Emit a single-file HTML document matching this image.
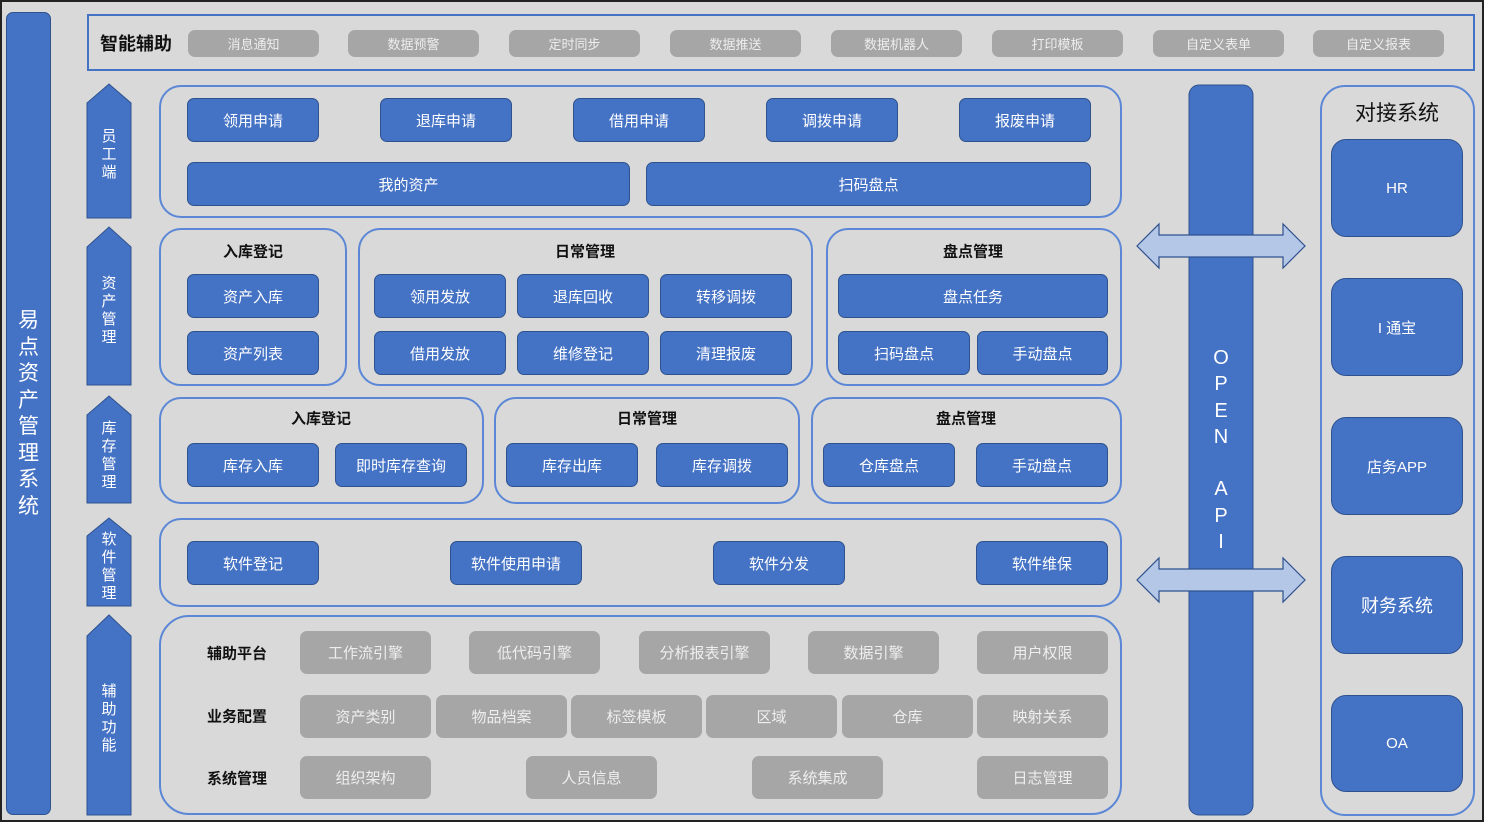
<!DOCTYPE html>
<html><head><meta charset="utf-8"><style>
*{margin:0;padding:0;box-sizing:border-box}
body{width:1488px;height:825px;background:#fff;position:relative;overflow:hidden;font-family:"Liberation Sans","Noto Sans CJK SC",sans-serif}
.a{position:absolute}
#frame{left:0;top:0;width:1484px;height:822px;background:#d9d9d9;border:2px solid #222}
.b{position:absolute;background:#4472c4;border:1px solid #2f528f;border-radius:7px;color:#fff;font-size:15px;display:flex;align-items:center;justify-content:center}
.g{position:absolute;background:#a6a6a6;border-radius:7px;color:#eee;font-size:15px;display:flex;align-items:center;justify-content:center}
.box{position:absolute;border:2px solid #5b87d6;border-radius:22px}
.t{position:absolute;font-weight:bold;font-size:15px;color:#111;transform:translate(-50%,-50%);white-space:nowrap}
.v{position:absolute;color:#fff;font-size:15px;line-height:18px;text-align:center;width:44px}
</style></head><body>
<div id="frame" class="a"></div>
<div class="a" style="left:6px;top:12px;width:45px;height:803px;background:#4472c4;border:1px solid #2f528f;border-radius:7px"></div>
<div class="v" style="left:6px;top:308px;font-size:21px;line-height:26.5px;width:45px">易<br>点<br>资<br>产<br>管<br>理<br>系<br>统</div>

<div class="a" style="left:87px;top:14px;width:1388px;height:57px;border:2px solid #4472c4"></div>
<div class="t" style="left:136px;top:43px;font-size:18px">智能辅助</div>
<div class="g" style="left:188px;top:30px;width:131px;height:27px;font-size:13px">消息通知</div>
<div class="g" style="left:348px;top:30px;width:131px;height:27px;font-size:13px">数据预警</div>
<div class="g" style="left:509px;top:30px;width:131px;height:27px;font-size:13px">定时同步</div>
<div class="g" style="left:670px;top:30px;width:131px;height:27px;font-size:13px">数据推送</div>
<div class="g" style="left:831px;top:30px;width:131px;height:27px;font-size:13px">数据机器人</div>
<div class="g" style="left:992px;top:30px;width:131px;height:27px;font-size:13px">打印模板</div>
<div class="g" style="left:1153px;top:30px;width:131px;height:27px;font-size:13px">自定义表单</div>
<div class="g" style="left:1313px;top:30px;width:131px;height:27px;font-size:13px">自定义报表</div>

<svg class="a" style="left:0;top:0" width="1488" height="825">
<g fill="#4472c4" stroke="#2f528f" stroke-width="1">
<polygon points="87,103 109,84 131,103 131,218 87,218"/>
<polygon points="87,247 109,227 131,247 131,385 87,385"/>
<polygon points="87,415 109,396 131,415 131,503 87,503"/>
<polygon points="87,536 109,518 131,536 131,606 87,606"/>
<polygon points="87,636 109,615 131,636 131,815 87,815"/>
</g>
<rect x="1189" y="85" width="64" height="730" rx="10" fill="#4472c4" stroke="#2f528f"/>
<g fill="#b4c7e7" stroke="#2f528f" stroke-width="1.2">
<polygon points="1137,246 1159,224 1159,235 1283,235 1283,224 1305,246 1283,268 1283,257 1159,257 1159,268"/>
<polygon points="1137,580 1159,558 1159,569 1283,569 1283,558 1305,580 1283,602 1283,591 1159,591 1159,602"/>
</g>
</svg>
<div class="v" style="left:87px;top:128px">员<br>工<br>端</div>
<div class="v" style="left:87px;top:275px">资<br>产<br>管<br>理</div>
<div class="v" style="left:87px;top:420px">库<br>存<br>管<br>理</div>
<div class="v" style="left:87px;top:531px">软<br>件<br>管<br>理</div>
<div class="v" style="left:87px;top:683px">辅<br>助<br>功<br>能</div>
<div class="v" style="left:1199px;top:345px;font-size:20px;line-height:26.3px;width:44px">O<br>P<br>E<br>N<br><br>A<br>P<br>I</div>

<div class="box" style="left:159px;top:85px;width:963px;height:133px"></div>
<div class="b" style="left:187px;top:98px;width:132px;height:44px">领用申请</div>
<div class="b" style="left:380px;top:98px;width:132px;height:44px">退库申请</div>
<div class="b" style="left:573px;top:98px;width:132px;height:44px">借用申请</div>
<div class="b" style="left:766px;top:98px;width:132px;height:44px">调拨申请</div>
<div class="b" style="left:959px;top:98px;width:132px;height:44px">报废申请</div>
<div class="b" style="left:187px;top:162px;width:443px;height:44px">我的资产</div>
<div class="b" style="left:646px;top:162px;width:445px;height:44px">扫码盘点</div>

<div class="box" style="left:159px;top:228px;width:188px;height:158px"></div>
<div class="box" style="left:358px;top:228px;width:455px;height:158px"></div>
<div class="box" style="left:826px;top:228px;width:296px;height:158px"></div>
<div class="t" style="left:253px;top:251px">入库登记</div>
<div class="t" style="left:585px;top:251px">日常管理</div>
<div class="t" style="left:973px;top:251px">盘点管理</div>
<div class="b" style="left:187px;top:274px;width:132px;height:44px">资产入库</div>
<div class="b" style="left:187px;top:331px;width:132px;height:44px">资产列表</div>
<div class="b" style="left:374px;top:274px;width:132px;height:44px">领用发放</div>
<div class="b" style="left:517px;top:274px;width:132px;height:44px">退库回收</div>
<div class="b" style="left:660px;top:274px;width:132px;height:44px">转移调拨</div>
<div class="b" style="left:374px;top:331px;width:132px;height:44px">借用发放</div>
<div class="b" style="left:517px;top:331px;width:132px;height:44px">维修登记</div>
<div class="b" style="left:660px;top:331px;width:132px;height:44px">清理报废</div>
<div class="b" style="left:838px;top:274px;width:270px;height:44px">盘点任务</div>
<div class="b" style="left:838px;top:331px;width:132px;height:44px">扫码盘点</div>
<div class="b" style="left:977px;top:331px;width:131px;height:44px">手动盘点</div>

<div class="box" style="left:159px;top:397px;width:325px;height:107px"></div>
<div class="box" style="left:494px;top:397px;width:306px;height:107px"></div>
<div class="box" style="left:811px;top:397px;width:311px;height:107px"></div>
<div class="t" style="left:321px;top:418px">入库登记</div>
<div class="t" style="left:647px;top:418px">日常管理</div>
<div class="t" style="left:966px;top:418px">盘点管理</div>
<div class="b" style="left:187px;top:443px;width:132px;height:44px">库存入库</div>
<div class="b" style="left:335px;top:443px;width:132px;height:44px">即时库存查询</div>
<div class="b" style="left:506px;top:443px;width:132px;height:44px">库存出库</div>
<div class="b" style="left:656px;top:443px;width:132px;height:44px">库存调拨</div>
<div class="b" style="left:823px;top:443px;width:132px;height:44px">仓库盘点</div>
<div class="b" style="left:976px;top:443px;width:132px;height:44px">手动盘点</div>

<div class="box" style="left:159px;top:518px;width:963px;height:89px"></div>
<div class="b" style="left:187px;top:541px;width:132px;height:44px">软件登记</div>
<div class="b" style="left:450px;top:541px;width:132px;height:44px">软件使用申请</div>
<div class="b" style="left:713px;top:541px;width:132px;height:44px">软件分发</div>
<div class="b" style="left:976px;top:541px;width:132px;height:44px">软件维保</div>

<div class="box" style="left:159px;top:615px;width:963px;height:200px;border-radius:30px"></div>
<div class="t" style="left:237px;top:653px">辅助平台</div>
<div class="t" style="left:237px;top:716px">业务配置</div>
<div class="t" style="left:237px;top:778px">系统管理</div>
<div class="g" style="left:300px;top:631px;width:131px;height:43px">工作流引擎</div>
<div class="g" style="left:469px;top:631px;width:131px;height:43px">低代码引擎</div>
<div class="g" style="left:639px;top:631px;width:131px;height:43px">分析报表引擎</div>
<div class="g" style="left:808px;top:631px;width:131px;height:43px">数据引擎</div>
<div class="g" style="left:977px;top:631px;width:131px;height:43px">用户权限</div>
<div class="g" style="left:300px;top:695px;width:131px;height:43px">资产类别</div>
<div class="g" style="left:436px;top:695px;width:131px;height:43px">物品档案</div>
<div class="g" style="left:571px;top:695px;width:131px;height:43px">标签模板</div>
<div class="g" style="left:706px;top:695px;width:131px;height:43px">区域</div>
<div class="g" style="left:842px;top:695px;width:131px;height:43px">仓库</div>
<div class="g" style="left:977px;top:695px;width:131px;height:43px">映射关系</div>
<div class="g" style="left:300px;top:756px;width:131px;height:43px">组织架构</div>
<div class="g" style="left:526px;top:756px;width:131px;height:43px">人员信息</div>
<div class="g" style="left:752px;top:756px;width:131px;height:43px">系统集成</div>
<div class="g" style="left:977px;top:756px;width:131px;height:43px">日志管理</div>

<div class="box" style="left:1320px;top:85px;width:155px;height:731px;border-radius:25px"></div>
<div class="t" style="left:1397px;top:112px;font-size:21px;font-weight:normal">对接系统</div>
<div class="b" style="left:1331px;top:139px;width:132px;height:98px;border-radius:15px">HR</div>
<div class="b" style="left:1331px;top:278px;width:132px;height:98px;border-radius:15px">I 通宝</div>
<div class="b" style="left:1331px;top:417px;width:132px;height:98px;border-radius:15px">店务APP</div>
<div class="b" style="left:1331px;top:556px;width:132px;height:98px;border-radius:15px;font-size:18px">财务系统</div>
<div class="b" style="left:1331px;top:695px;width:132px;height:97px;border-radius:15px">OA</div>
</body></html>
